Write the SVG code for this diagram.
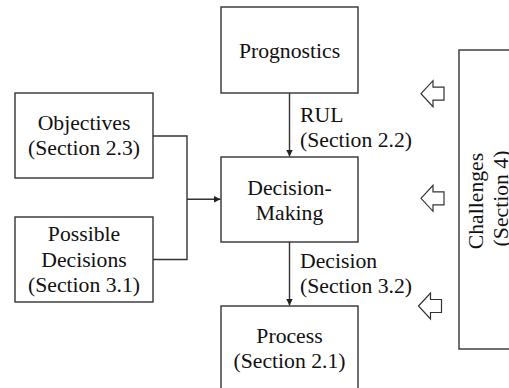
<svg xmlns="http://www.w3.org/2000/svg" width="509" height="388" viewBox="0 0 509 388">
  <defs>
    <style>
      .box { fill: #ffffff; stroke: #333333; stroke-width: 1.4; }
      .wire { fill: none; stroke: #333333; stroke-width: 1.4; }
      .hollow { fill: #ffffff; stroke: #333333; stroke-width: 1.2; stroke-linejoin: miter; }
      .c { text-anchor: middle; }
    </style>
    <marker id="head" viewBox="0 0 10 10" refX="10" refY="5" markerWidth="7" markerHeight="7" markerUnits="userSpaceOnUse" orient="auto">
      <path d="M0,0 L10,5 L0,10 z" fill="#222222"/>
    </marker>
    <polygon id="hollowArrow" class="hollow" points="0,0 12,-13 12,-6.5 23,-6.5 23,6.5 12,6.5 12,13"/>
  </defs>

  <rect width="509" height="388" fill="#ffffff"/>

  <g font-family="'Liberation Serif', 'DejaVu Serif', serif" font-size="21.7" fill="#111111">
    <!-- connectors -->
    <g id="connectors">
      <line class="wire" x1="289.5" y1="93" x2="289.5" y2="156.5" marker-end="url(#head)"/>
      <line class="wire" x1="289.5" y1="242" x2="289.5" y2="305.5" marker-end="url(#head)"/>
      <polyline class="wire" points="153,136 187,136 187,259.5 153,259.5"/>
      <line class="wire" x1="187" y1="199.3" x2="220.5" y2="199.3" marker-end="url(#head)"/>
      <text x="300" y="121.5">RUL</text>
      <text x="300" y="146.5">(Section 2.2)</text>
      <text x="300" y="268">Decision</text>
      <text x="300" y="293">(Section 3.2)</text>
      <use href="#hollowArrow" x="421" y="93.7"/>
      <use href="#hollowArrow" x="421" y="198.3"/>
      <use href="#hollowArrow" x="418.5" y="306"/>
    </g>

    <g id="prognostics">
      <rect class="box" x="221" y="7" width="137" height="86"/>
      <text class="c" x="289.5" y="57.5">Prognostics</text>
    </g>

    <g id="decision-making">
      <rect class="box" x="221" y="157" width="137" height="85"/>
      <text class="c" x="289.5" y="194.5">Decision-</text>
      <text class="c" x="289.5" y="219.5">Making</text>
    </g>

    <g id="process">
      <rect class="box" x="221" y="306" width="137" height="100"/>
      <text class="c" x="289.5" y="342.7">Process</text>
      <text class="c" x="289.5" y="368">(Section 2.1)</text>
    </g>

    <g id="objectives">
      <rect class="box" x="15" y="93" width="138" height="85"/>
      <text class="c" x="84" y="129.5">Objectives</text>
      <text class="c" x="84" y="155.3">(Section 2.3)</text>
    </g>

    <g id="possible-decisions">
      <rect class="box" x="15" y="217" width="138" height="85"/>
      <text class="c" x="84" y="241">Possible</text>
      <text class="c" x="84" y="266.5">Decisions</text>
      <text class="c" x="84" y="292">(Section 3.1)</text>
    </g>

    <g id="challenges">
      <rect class="box" x="459" y="50" width="70" height="299"/>
      <text class="c" transform="translate(482.5,201) rotate(-90)">Challenges</text>
      <text class="c" transform="translate(507.5,198.5) rotate(-90)">(Section 4)</text>
    </g>
  </g>
</svg>
